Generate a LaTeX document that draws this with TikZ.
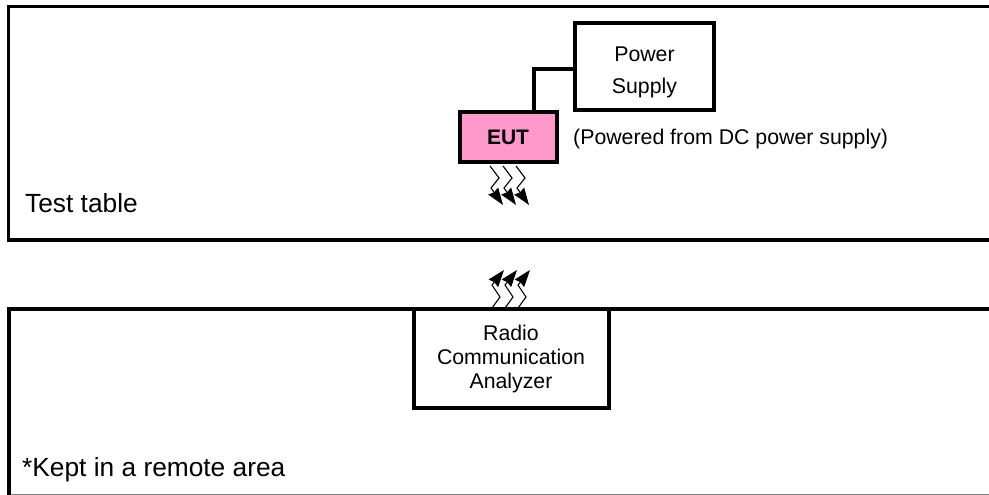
\documentclass[tikz,border=0pt]{standalone}
\usepackage{fontspec}
\setmainfont{Liberation Sans}
\usetikzlibrary{arrows.meta}
\definecolor{eutpink}{HTML}{FF99CC}
\tikzset{
  panel/.style={line width=3.6pt,line cap=butt},
  boxed/.style={draw=black,line width=4pt,fill=white,inner sep=0pt,align=center,anchor=center},
  wire/.style={line width=4pt},
  zig/.style={line width=1.1pt,-{Stealth[length=17pt,width=12pt,inset=1.5pt]}},
  lab/.style={inner sep=0pt,anchor=base west},
  smalltext/.style={font=\fontsize{21.3}{24}\selectfont},
  bigtext/.style={font=\fontsize{26.3}{30}\selectfont},
}
\begin{document}
\begin{tikzpicture}[x=1pt,y=-1pt]
\useasboundingbox (0,0) rectangle (989,495);
% panels
\draw[panel] (989,6.5) -- (8.5,6.5) -- (8.5,240) -- (989,240);
\draw[line width=1pt,draw=gray] (9,494) -- (989,494);
\draw[panel] (989,309) -- (9,309) -- (9,495);
% zigzags drawn before the boxes
\foreach \i/\d in {0/0,1/13,2/26}{
  \coordinate (ds\i) at (490+\d,166);
  \coordinate (dt\i) at (503+\d,205);
  \draw[zig] (ds\i) -- (499+\d,178) -- (491+\d,188) -- (dt\i);
  \coordinate (us\i) at (492+\d,308);
  \coordinate (ut\i) at (504+\d,270);
  \draw[zig] (us\i) -- (500+\d,297) -- (492+\d,285) -- (ut\i);
}
% boxes
\node[boxed,minimum width=139pt,minimum height=87pt] (ps) at (644.5,66.5) {};
\node[boxed,fill=eutpink,minimum width=97pt,minimum height=50pt] (eut) at (508.5,137) {};
\node[boxed,minimum width=195pt,minimum height=99pt] (rca) at (511.5,358.5) {};
\draw[wire] (ps.west |- 0,69) -- (534,69) -- (534,112);
% labels
\node[inner sep=0pt,anchor=base,smalltext] (t1) at (644.5,62) {Power};
\node[inner sep=0pt,anchor=base,smalltext] (t2) at (644.5,94) {Supply};
\node[inner sep=0pt,anchor=base,smalltext,font=\fontsize{21}{24}\selectfont\bfseries] (t3) at (508,144) {EUT};
\node[inner sep=0pt,anchor=base,smalltext] (t4) at (511,340) {Radio};
\node[inner sep=0pt,anchor=base,smalltext] (t5) at (511,364) {Communication};
\node[inner sep=0pt,anchor=base,smalltext] (t6) at (511,388) {Analyzer};
\node[lab,bigtext] (tt) at (25,212) {Test table};
\node[lab,bigtext] (kp) at (22,476) {*Kept in a remote area};
\node[lab,smalltext] (pw) at (573,144) {(Powered from DC power supply)};
\end{tikzpicture}
\end{document}
